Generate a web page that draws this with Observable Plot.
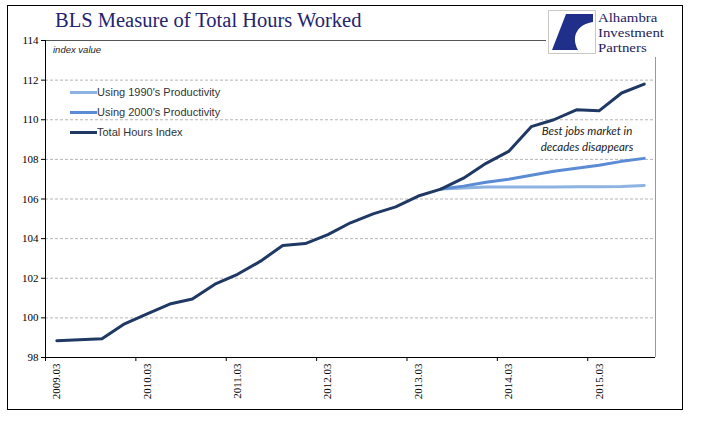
<!DOCTYPE html>
<html>
<head>
<meta charset="utf-8">
<script src="https://cdn.jsdelivr.net/npm/d3@7"></script>
<script src="https://cdn.jsdelivr.net/npm/@observablehq/plot@0.6"></script>
<style>
  body { margin: 0; background: #fff; }
  #wrap { position: relative; width: 705px; height: 426px; background: #fff; overflow: hidden; }
  #chart { position: absolute; left: 0; top: 0; }
  .abs { position: absolute; }
  #frame { left: 7px; top: 5px; width: 674px; height: 403px; border: 1px solid #000; }
  #title { left: 55px; top: 9px; font-family: "Liberation Serif", "DejaVu Serif", serif; font-size: 20.5px; color: #232370; white-space: nowrap; }
  #logo { left: 546px; top: 7px; width: 130px; height: 50px; background: #fff; }
  .lt { position: absolute; left: 52px; font-family: "Liberation Serif", serif; font-size: 13.5px; line-height: 15px; height: 15px; color: #1c1c5c; white-space: nowrap; transform: scaleX(1.1); transform-origin: left center; }
  #legend { left: 70px; top: 84px; font-family: "Liberation Sans", Arial, sans-serif; font-size: 11px; color: #333; }
  .li { position: relative; height: 20px; line-height: 16px; }
  .sw { display: inline-block; width: 27px; height: 3px; vertical-align: middle; position: relative; top: -1px; }
  #idx { left: 53px; top: 44px; font-family: "Liberation Sans", Arial, sans-serif; font-style: italic; font-size: 9.5px; color: #222; }
  #note { left: 527px; top: 123px; width: 120px; text-align: center; font-family: Lato, "Open Sans", sans-serif; font-style: italic; font-size: 11.5px; line-height: 16px; color: #1a1a1a; }
</style>
</head>
<body>
<div id="wrap">
  <div id="chart"></div>
  <div id="frame" class="abs"></div>
  <div id="title" class="abs">BLS Measure of Total Hours Worked</div>
  <div id="idx" class="abs">index value</div>
  <div id="legend" class="abs"></div>
  <div id="note" class="abs">Best jobs market in<br>decades disappears</div>
  <div id="logo" class="abs">
    <svg width="50" height="46" style="position:absolute;left:2px;top:3px">
      <rect x="0.5" y="0.5" width="47" height="43" fill="#fff" stroke="#c8c8c8"/>
      <path d="M18,4 L45,4 L45,12 C31,14 22,25 30,40 L4,40 Z" fill="#1f2f8a"/>
    </svg>
    <div class="lt" style="top:3px">Alhambra</div>
    <div class="lt" style="top:18px">Investment</div>
    <div class="lt" style="top:33px">Partners</div>
  </div>
</div>
<script>
// Category labels (quarters)
const quarters = [
  "2009.03","2009.06","2009.09","2009.12",
  "2010.03","2010.06","2010.09","2010.12",
  "2011.03","2011.06","2011.09","2011.12",
  "2012.03","2012.06","2012.09","2012.12",
  "2013.03","2013.06","2013.09","2013.12",
  "2014.03","2014.06","2014.09","2014.12",
  "2015.03","2015.06","2015.09"
];
// Total Hours Index
const totalHours = [
  98.85, 98.9, 98.95, 99.7,
  100.2, 100.7, 100.95, 101.7,
  102.2, 102.85, 103.65, 103.75,
  104.2, 104.8, 105.25, 105.6,
  106.15, 106.5, 107.05, 107.8,
  108.4, 109.65, 110.0, 110.5,
  110.45, 111.35, 111.8
];
// Projections start at this quarter
const projStart = "2013.06";
const using1990s = [106.5, 106.55, 106.6, 106.6, 106.6, 106.6, 106.62, 106.62, 106.63, 106.68];
const using2000s = [106.5, 106.65, 106.85, 107.0, 107.2, 107.4, 107.55, 107.7, 107.9, 108.05];

const yTicks = [98, 100, 102, 104, 106, 108, 110, 112, 114];
const xLabelQuarters = ["2009.03","2010.03","2011.03","2012.03","2013.03","2014.03","2015.03"];

const seriesNames = ["Using 1990's Productivity", "Using 2000's Productivity", "Total Hours Index"];
const seriesColors = ["#8db3e2", "#5a8bd4", "#1f3864"];

const startIdx = quarters.indexOf(projStart);
const rows = [];
using1990s.forEach((v, k) => rows.push({s: seriesNames[0], x: startIdx + k + 0.5, v}));
using2000s.forEach((v, k) => rows.push({s: seriesNames[1], x: startIdx + k + 0.5, v}));
totalHours.forEach((v, i) => rows.push({s: seriesNames[2], x: i + 0.5, v}));

const n = quarters.length;
const labelIdx = xLabelQuarters.map(q => quarters.indexOf(q));
const serif = "Liberation Serif, DejaVu Serif, serif";

const chart = Plot.plot({
  width: 705,
  height: 426,
  marginLeft: 45,
  marginRight: 50,
  marginTop: 40,
  marginBottom: 69,
  style: {background: "transparent", overflow: "visible"},
  x: {domain: [0, n], axis: null},
  y: {domain: [98, 114], axis: null},
  color: {domain: seriesNames, range: seriesColors},
  marks: [
    Plot.ruleY(yTicks.filter(t => t > 98 && t < 114), {stroke: "#b5b5b5", strokeDasharray: "3,2", strokeWidth: 1}),
    Plot.ruleY([114], {stroke: "#555", strokeWidth: 1}),
    Plot.ruleX([n], {stroke: "#999", strokeWidth: 1}),
    Plot.line(rows.filter(d => d.s !== seriesNames[2]), {x: "x", y: "v", z: "s", stroke: "s", strokeWidth: 3, strokeLinejoin: "round"}),
    Plot.line(rows.filter(d => d.s === seriesNames[2]), {x: "x", y: "v", stroke: "s", strokeWidth: 3, strokeLinejoin: "round"}),
    Plot.ruleX([0], {stroke: "#000", strokeWidth: 1}),
    Plot.ruleY([98], {stroke: "#000", strokeWidth: 1}),
    Plot.axisY({ticks: yTicks, tickSize: 4, tickPadding: 3, tickFormat: d => String(d), fontFamily: serif, fontSize: 11, color: "#000", label: null}),
    Plot.axisX({ticks: labelIdx, tickSize: 4, tickFormat: () => "", label: null, color: "#000"}),
    Plot.axisX({ticks: labelIdx.map(i => i + 0.5), tickSize: 0, tickPadding: 6, tickRotate: -90, tickFormat: d => quarters[Math.round(d - 0.5)], fontFamily: serif, fontSize: 11, color: "#000", label: null})
  ]
});
document.getElementById("chart").appendChild(chart);

const leg = document.getElementById("legend");
seriesNames.forEach((name, i) => {
  const row = document.createElement("div");
  row.className = "li";
  const sw = document.createElement("span");
  sw.className = "sw";
  sw.style.background = seriesColors[i];
  row.appendChild(sw);
  row.appendChild(document.createTextNode(name));
  leg.appendChild(row);
});
</script>
</body>
</html>
